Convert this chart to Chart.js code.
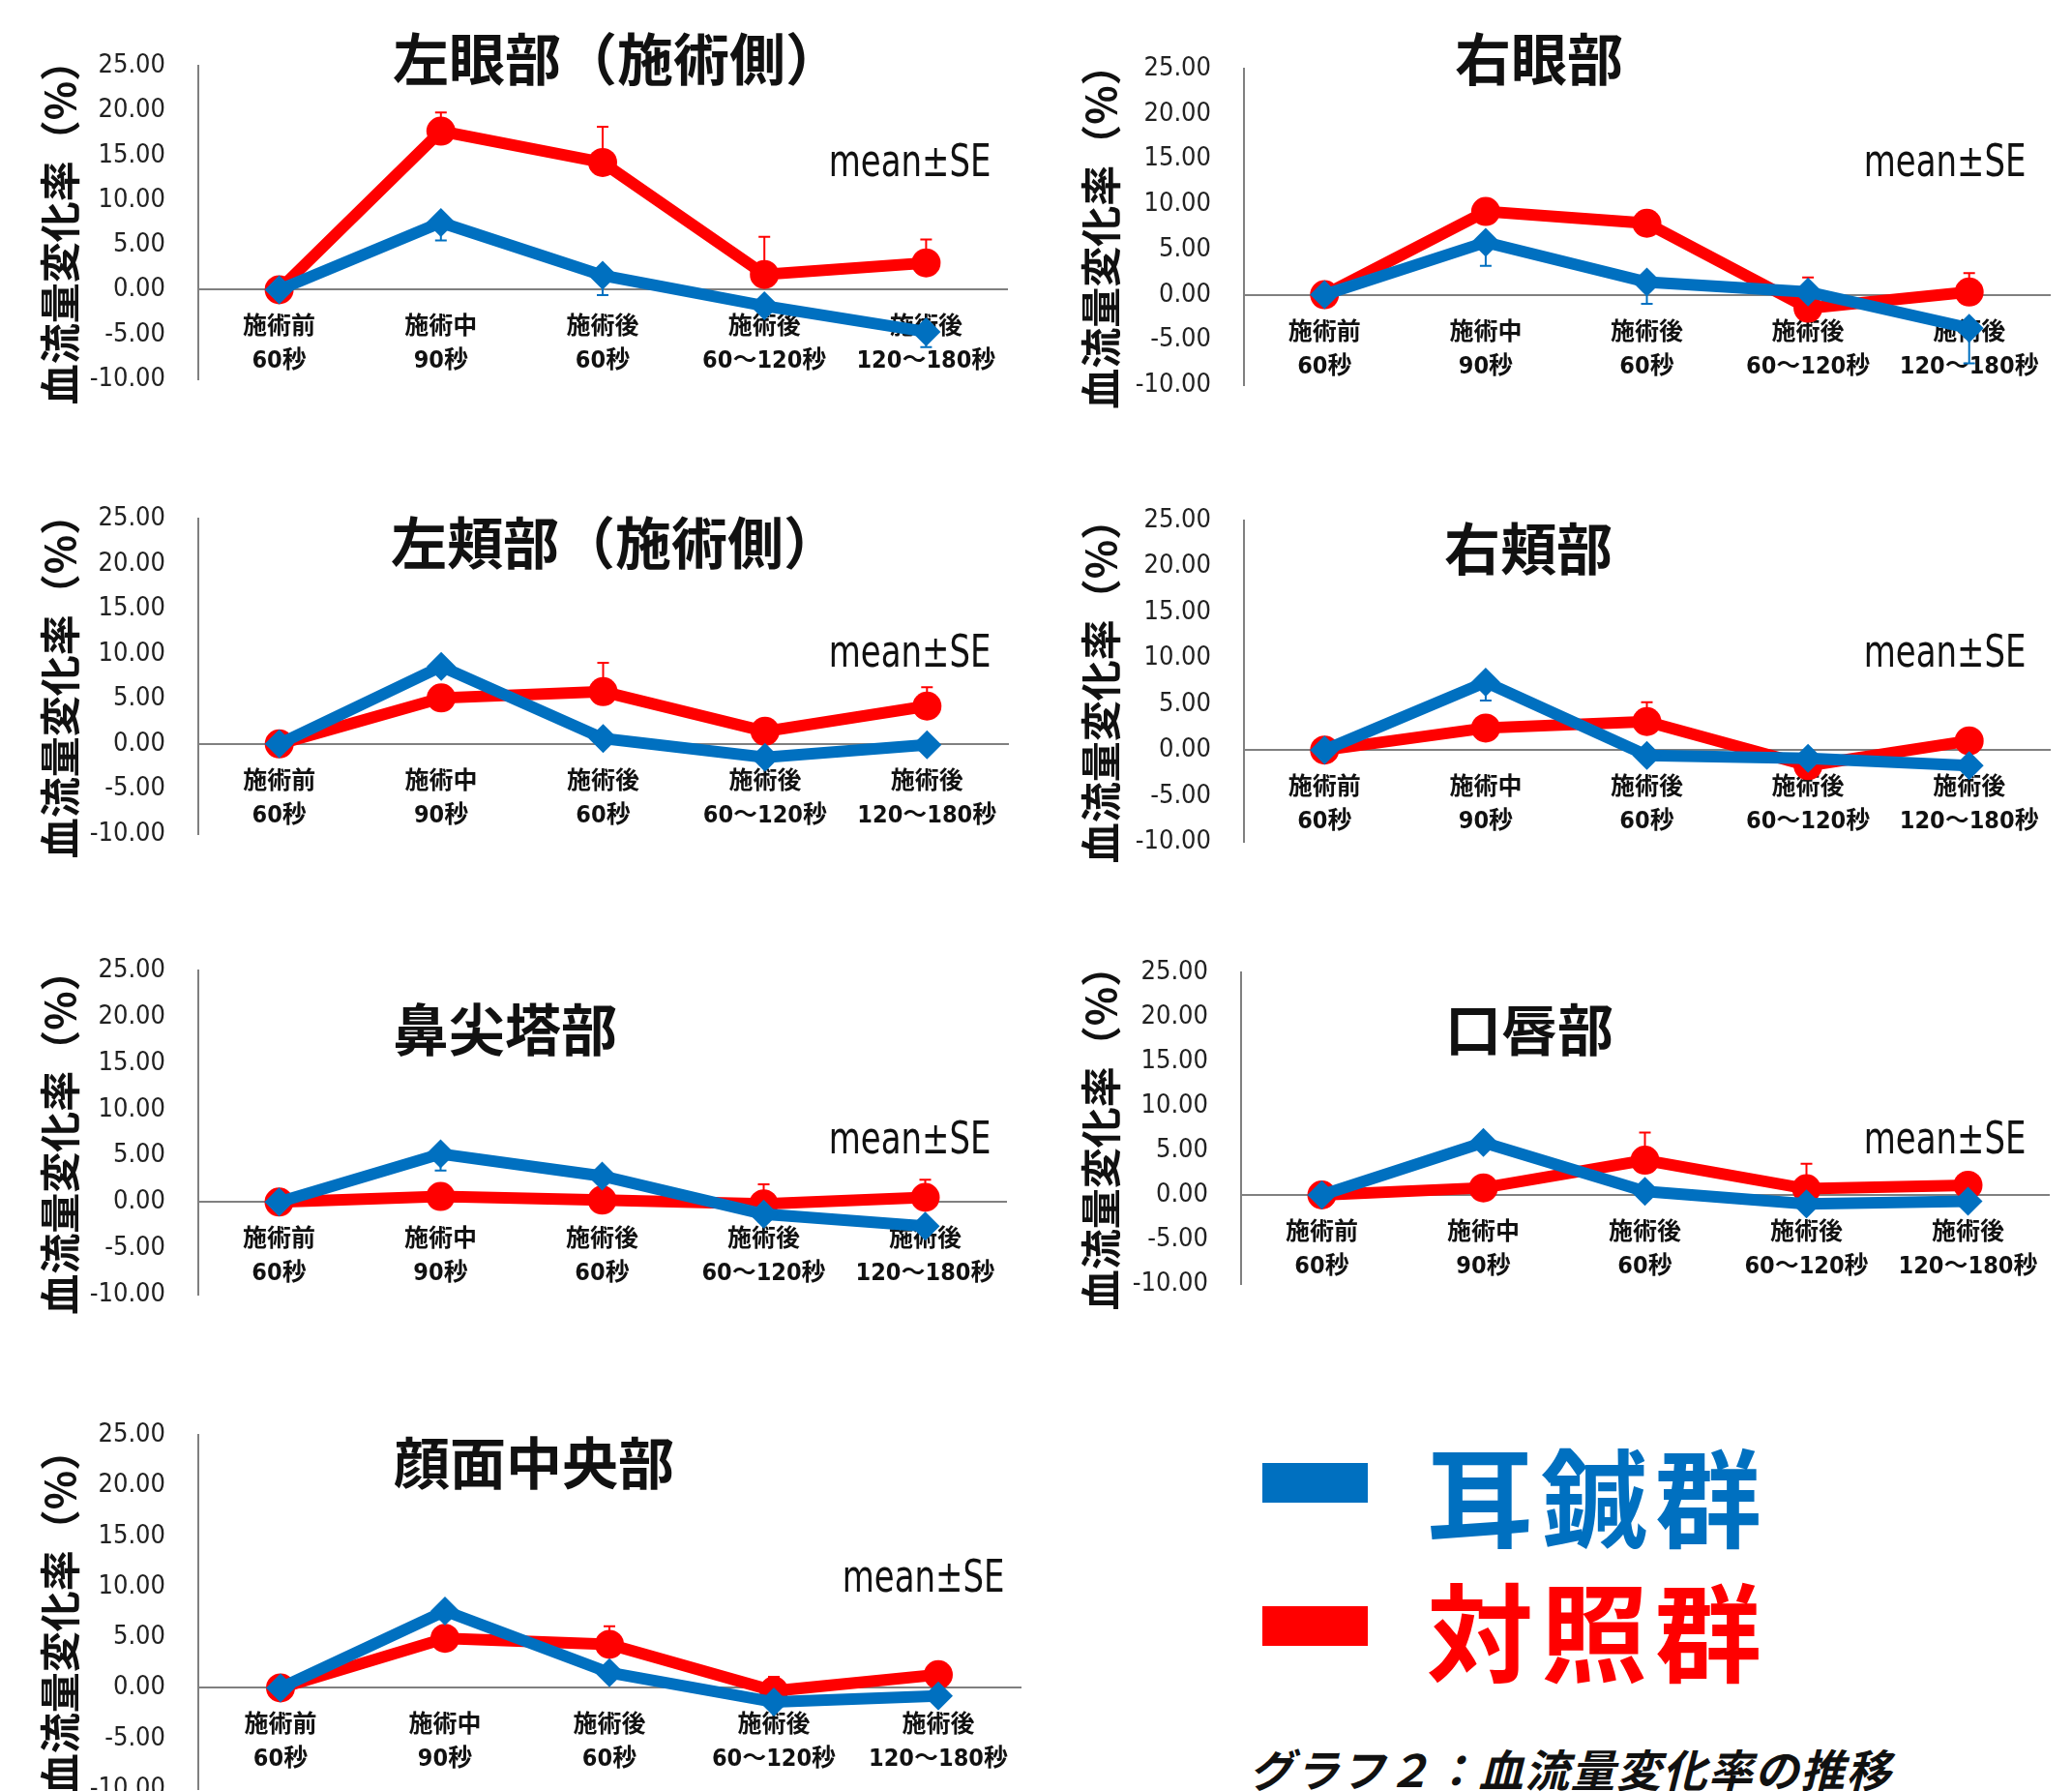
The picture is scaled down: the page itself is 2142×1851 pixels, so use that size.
<!DOCTYPE html>
<html>
<head>
<meta charset="utf-8">
<script src="https://cdn.jsdelivr.net/npm/chart.js@4.4.0/dist/chart.umd.min.js"></script>
<style>
  body { margin: 0; width: 2142px; height: 1851px; background: #fff; position: relative; overflow: hidden;
         font-family: 'Noto Sans CJK JP', sans-serif; }
  canvas { position: absolute; }
  .title { position: absolute; font-weight: bold; font-size: 58px; color: #111; line-height: 1; white-space: nowrap; }
  .note { position: absolute; font-family: 'DejaVu Sans Condensed', 'DejaVu Sans', sans-serif;
          font-size: 46px; color: #111; line-height: 1; white-space: nowrap;
          transform: scaleX(0.82); transform-origin: right center; }
  .swatch { position: absolute; width: 109px; height: 41px; }
  .legend { position: absolute; font-weight: bold; font-size: 110px; line-height: 1; letter-spacing: 8px; white-space: nowrap; }
  .caption { position: absolute; font-weight: bold; font-style: italic; font-size: 46px; line-height: 1; letter-spacing: 1.5px; color: #111; white-space: nowrap; }
</style>
</head>
<body>
<script>
// x categories and y range
const categories = [['施術前', '60秒'], ['施術中', '90秒'], ['施術後', '60秒'], ['施術後', '60～120秒'], ['施術後', '120～180秒']];
const yMin = -10, yMax = 25, yStep = 5;
const panelTitles = ['左眼部（施術側）', '右眼部', '左頬部（施術側）', '右頬部', '鼻尖塔部', '口唇部', '顔面中央部'];
const seriesNames = ['耳鍼群', '対照群'];
const yTitle = '血流量変化率（%）';

// 耳鍼群 (blue) mean and SE, one row per panel
const earMeans = [
  [0, 7.5, 1.6, -1.8, -4.7],
  [0, 5.8, 1.4, 0.3, -3.7],
  [0, 8.6, 0.6, -1.5, -0.1],
  [0, 7.4, -0.6, -0.9, -1.7],
  [0, 5.2, 2.8, -1.3, -2.6],
  [0, 5.9, 0.4, -1.0, -0.7],
  [0, 7.6, 1.5, -1.4, -0.8]
];
const earSE = [
  [0, 2.0, 2.2, 0.6, 1.7],
  [0, 2.6, 2.4, 1.0, 3.9],
  [0, 0.8, 0.8, 0.8, 0.6],
  [0, 2.0, 0.6, 0.7, 0.6],
  [0, 1.8, 0.6, 0.8, 0.6],
  [0, 0.8, 0.6, 0.6, 0.6],
  [0, 0.8, 0.8, 0.6, 0.6]
];
// 対照群 (red) mean and SE
const ctrlMeans = [
  [0, 17.7, 14.2, 1.7, 3.0],
  [0, 9.2, 7.9, -1.5, 0.3],
  [0, 5.1, 5.8, 1.4, 4.2],
  [0, 2.4, 3.1, -1.7, 1.0],
  [0, 0.6, 0.2, -0.2, 0.5],
  [0, 0.8, 3.9, 0.7, 1.1],
  [0, 4.9, 4.3, -0.3, 1.3]
];
const ctrlSE = [
  [0, 2.1, 4.0, 4.2, 2.6],
  [0, 0.8, 0.9, 3.4, 2.1],
  [0, 0.8, 3.2, 0.8, 2.1],
  [0, 0.8, 2.1, 1.0, 0.9],
  [0, 0.9, 0.6, 2.1, 1.9],
  [0, 0.6, 3.1, 2.8, 0.8],
  [0, 0.8, 1.8, 1.4, 0.6]
];

// where each panel sits on the page
const panels = [
  { x0: 0,    axisX: 205,  right: 1041, top: 68,   bottom: 391,  tx: 406,  ty: 60,   nr: 1024, ny: 166, yt: 62 },
  { x0: 1071, axisX: 1286, right: 2119, top: 71,   bottom: 397,  tx: 1504, ty: 60,   nr: 2094, ny: 166, yt: 1138 },
  { x0: 0,    axisX: 205,  right: 1042, top: 536,  bottom: 861,  tx: 404,  ty: 560,  nr: 1024, ny: 673, yt: 62 },
  { x0: 1071, axisX: 1286, right: 2119, top: 538,  bottom: 869,  tx: 1493, ty: 566,  nr: 2094, ny: 673, yt: 1138 },
  { x0: 0,    axisX: 205,  right: 1040, top: 1003, bottom: 1337, tx: 406,  ty: 1063, nr: 1024, ny: 1176, yt: 62 },
  { x0: 1071, axisX: 1283, right: 2118, top: 1005, bottom: 1326, tx: 1494, ty: 1063, nr: 2094, ny: 1176, yt: 1138 },
  { x0: 0,    axisX: 205,  right: 1055, top: 1483, bottom: 1848, tx: 407,  ty: 1511, nr: 1038, ny: 1629, yt: 62 }
];

const BLUE = '#0070c0';
const RED = '#ff0000';
const numFont = "'DejaVu Sans Condensed', 'Noto Sans CJK JP', sans-serif";

// one-sided SE bars: control upward, ear group downward
const errorBars = {
  id: 'errorBars',
  beforeDatasetsDraw(chart) {
    const { ctx, scales: { x, y } } = chart;
    chart.data.datasets.forEach(ds => {
      ds.data.forEach((v, j) => {
        const se = ds.errors[j];
        if (!se) return;
        const px = x.getPixelForValue(j);
        const y0 = y.getPixelForValue(v);
        const y1 = y.getPixelForValue(v + ds.errDir * se);
        ctx.save();
        ctx.strokeStyle = ds.borderColor;
        ctx.lineWidth = 2;
        ctx.beginPath();
        ctx.moveTo(px, y0); ctx.lineTo(px, y1);
        ctx.moveTo(px - 6, y1); ctx.lineTo(px + 6, y1);
        ctx.stroke();
        ctx.restore();
      });
    });
  }
};

function addDiv(cls, text, style) {
  const d = document.createElement('div');
  d.className = cls;
  d.textContent = text;
  Object.assign(d.style, style);
  document.body.appendChild(d);
  return d;
}

panels.forEach((p, i) => {
  // tick padding makes Chart.js reserve ~51px above/below the plot
  const padTop = 60, padBottom = 60, padRight = 25;
  const canvas = document.createElement('canvas');
  canvas.width = p.right - p.x0 + padRight;
  canvas.height = p.bottom - p.top + padTop + padBottom + 1;
  canvas.style.left = p.x0 + 'px';
  canvas.style.top = (p.top - padTop) + 'px';
  document.body.appendChild(canvas);

  new Chart(canvas.getContext('2d'), {
    type: 'line',
    data: {
      labels: categories,
      datasets: [{
        label: seriesNames[0],
        data: earMeans[i],
        errors: earSE[i],
        errDir: -1,
        borderColor: BLUE,
        backgroundColor: BLUE,
        borderWidth: 12,
        pointStyle: 'rectRot',
        pointRadius: 15,
        pointBorderWidth: 0,
        tension: 0
      }, {
        label: seriesNames[1],
        data: ctrlMeans[i],
        errors: ctrlSE[i],
        errDir: 1,
        borderColor: RED,
        backgroundColor: RED,
        borderWidth: 12,
        pointStyle: 'circle',
        pointRadius: 15,
        pointBorderWidth: 0,
        tension: 0
      }]
    },
    options: {
      responsive: false,
      animation: false,
      devicePixelRatio: 1,
      layout: { padding: { left: 0, right: padRight, top: padTop, bottom: padBottom } },
      plugins: { legend: { display: false }, tooltip: { enabled: false } },
      scales: {
        x: {
          type: 'category',
          offset: true,
          position: { y: 0 },
          grid: { display: false, drawTicks: false },
          border: { display: true, color: '#808080', width: 2 },
          ticks: {
            color: '#111',
            padding: 22,
            maxRotation: 0,
            autoSkip: false,
            font: { family: numFont, size: 25, weight: 'bold', lineHeight: 1.4 }
          },
          afterFit(scale) { scale.height = 1; }
        },
        y: {
          min: yMin,
          max: yMax,
          grid: { display: false, drawTicks: false },
          border: { display: true, color: '#808080', width: 2 },
          ticks: {
            stepSize: yStep,
            padding: 34,
            color: '#222',
            font: { family: numFont, size: 27 },
            callback: v => v.toFixed(2)
          },
          title: {
            display: true,
            text: yTitle,
            color: '#111',
            font: { family: "'Noto Sans CJK JP', sans-serif", size: 42, weight: 'bold', lineHeight: 1.2 },
            padding: { top: p.yt - p.x0 - 25, bottom: 0 }
          },
          afterFit(scale) { scale.width = p.axisX - p.x0; }
        }
      }
    },
    plugins: [errorBars]
  });

  addDiv('title', panelTitles[i], { left: p.tx + 'px', top: (p.ty - 31) + 'px' });
  const note = addDiv('note', 'mean±SE', { top: (p.ny - 23) + 'px' });
  note.style.left = (p.nr - note.offsetWidth) + 'px';
});

// legend block and caption
addDiv('swatch', '', { left: '1305px', top: '1512px', background: BLUE });
addDiv('legend', seriesNames[0], { left: '1475px', top: '1488px', color: BLUE });
addDiv('swatch', '', { left: '1305px', top: '1660px', background: RED });
addDiv('legend', seriesNames[1], { left: '1475px', top: '1627px', color: RED });
addDiv('caption', 'グラフ２：血流量変化率の推移', { left: '1291px', top: '1804px' });
</script>
</body>
</html>
